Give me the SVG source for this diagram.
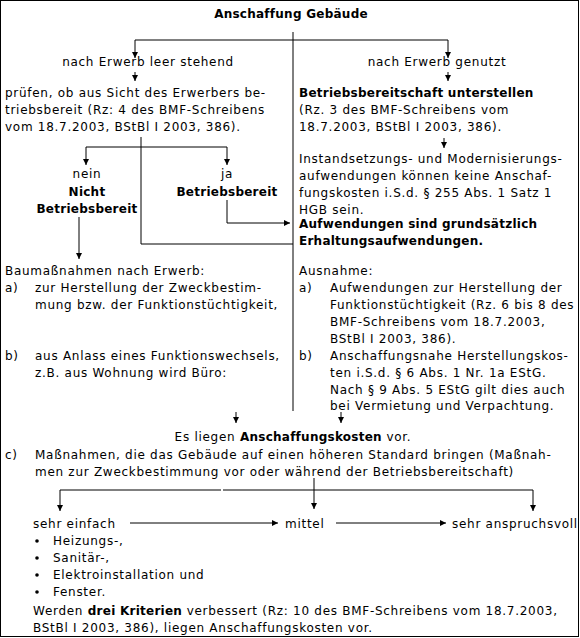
<svg xmlns="http://www.w3.org/2000/svg" width="580" height="638" viewBox="0 0 580 638">
<style>
text{font-family:"DejaVu Sans","Liberation Sans",sans-serif;font-size:12px;fill:#000;letter-spacing:0.72px}
.b{font-weight:bold;letter-spacing:0.25px}
.c{text-anchor:middle}
.ln{fill:none;stroke:#000;stroke-width:1}
.ar{fill:none;stroke:#000;stroke-width:1;marker-end:url(#ah)}
</style>
<defs>
<marker id="ah" markerUnits="userSpaceOnUse" markerWidth="8" markerHeight="8" refX="6" refY="3" orient="auto">
<path d="M0,0 L6,3 L0,6 Z" fill="#000"/>
</marker>
</defs>
<rect x="0.5" y="0.5" width="578" height="636" fill="#fff" stroke="#000"/>
<g id="connectors">
<path class="ln" d="M293,32 V411"/>
<path class="ln" d="M135,40 H448"/>
<path class="ar" d="M135,40 V58"/>
<path class="ar" d="M448,40 V58"/>
<path class="ar" d="M135,72 V81"/>
<path class="ar" d="M448,72 V81"/>
<path class="ar" d="M444,138 V148"/>
<path class="ln" d="M86,147 H227"/>
<path class="ar" d="M86,147 V165"/>
<path class="ar" d="M227,147 V165"/>
<path class="ln" d="M141,137 V244 H293"/>
<path class="ar" d="M227,200 V223 H290"/>
<path class="ar" d="M79,217 V259"/>
<path class="ar" d="M236,412 V423"/>
<path class="ar" d="M341,412 V423"/>
<path class="ar" d="M314,478 V509"/>
<path class="ln" d="M60,490 H221 M223,490 H533"/>
<path class="ar" d="M60,490 V511"/>
<path class="ar" d="M533,490 V511"/>
<path class="ar" d="M130,523 H278"/>
<path class="ar" d="M336,523 H446"/>
</g>
<g id="title"><text class="b c" x="291" y="18">Anschaffung Gebäude</text></g>
<g id="leer"><text class="c" x="148" y="66">nach Erwerb leer stehend</text></g>
<g id="genutzt"><text class="c" x="437" y="66">nach Erwerb genutzt</text></g>
<g id="pruefen">
<text x="5" y="97">prüfen, ob aus Sicht des Erwerbers be-</text>
<text x="5" y="114">triebsbereit (Rz: 4 des BMF-Schreibens</text>
<text x="5" y="131">vom 18.7.2003, BStBl I 2003, 386).</text>
</g>
<g id="unterstellen">
<text class="b" x="299" y="97">Betriebsbereitschaft unterstellen</text>
<text x="299" y="114">(Rz. 3 des BMF-Schreibens vom</text>
<text x="299" y="131">18.7.2003, BStBl I 2003, 386).</text>
</g>
<g id="nein">
<text class="c" x="87" y="178">nein</text>
<text class="b c" x="87" y="196">Nicht</text>
<text class="b c" x="87" y="213">Betriebsbereit</text>
</g>
<g id="ja">
<text class="c" x="227" y="178">ja</text>
<text class="b c" x="227" y="196">Betriebsbereit</text>
</g>
<g id="instandsetzung">
<text x="299" y="163">Instandsetzungs- und Modernisierungs-</text>
<text x="299" y="180">aufwendungen können keine Anschaf-</text>
<text x="299" y="197">fungskosten i.S.d. § 255 Abs. 1 Satz 1</text>
<text x="299" y="214">HGB sein.</text>
<text class="b" x="299" y="228">Aufwendungen sind grundsätzlich</text>
<text class="b" x="299" y="245">Erhaltungsaufwendungen.</text>
</g>
<g id="baumassnahmen">
<text x="5" y="275">Baumaßnahmen nach Erwerb:</text>
<text x="5" y="292">a)</text>
<text x="35" y="292">zur Herstellung der Zweckbestim-</text>
<text x="35" y="309">mung bzw. der Funktionstüchtigkeit,</text>
<text x="5" y="360">b)</text>
<text x="35" y="360">aus Anlass eines Funktionswechsels,</text>
<text x="35" y="377">z.B. aus Wohnung wird Büro:</text>
</g>
<g id="ausnahme">
<text x="299" y="275">Ausnahme:</text>
<text x="299" y="292">a)</text>
<text x="330" y="292">Aufwendungen zur Herstellung der</text>
<text x="330" y="309">Funktionstüchtigkeit (Rz. 6 bis 8 des</text>
<text x="330" y="326">BMF-Schreibens vom 18.7.2003,</text>
<text x="330" y="343">BStBl I 2003, 386).</text>
<text x="299" y="360">b)</text>
<text x="330" y="360">Anschaffungsnahe Herstellungskos-</text>
<text x="330" y="377">ten i.S.d. § 6 Abs. 1 Nr. 1a EStG.</text>
<text x="330" y="394">Nach § 9 Abs. 5 EStG gilt dies auch</text>
<text x="330" y="410">bei Vermietung und Verpachtung.</text>
</g>
<g id="anschaffungskosten">
<text class="c" x="293" y="441">Es liegen <tspan class="b">Anschaffungskosten</tspan> vor.</text>
<text x="5" y="459">c)</text>
<text x="35" y="459">Maßnahmen, die das Gebäude auf einen höheren Standard bringen (Maßnah-</text>
<text x="35" y="476">men zur Zweckbestimmung vor oder während der Betriebsbereitschaft)</text>
</g>
<g id="einfach">
<text x="33" y="528">sehr einfach</text>
<circle cx="37" cy="541" r="1.8"/>
<text x="53" y="545">Heizungs-,</text>
<circle cx="37" cy="558" r="1.8"/>
<text x="53" y="562">Sanitär-,</text>
<circle cx="37" cy="575" r="1.8"/>
<text x="53" y="579">Elektroinstallation und</text>
<circle cx="37" cy="592" r="1.8"/>
<text x="53" y="596">Fenster.</text>
</g>
<g id="mittel"><text x="285" y="528">mittel</text></g>
<g id="anspruchsvoll"><text x="452" y="528">sehr anspruchsvoll</text></g>
<g id="kriterien">
<text x="33" y="615">Werden <tspan class="b">drei Kriterien</tspan> verbessert (Rz: 10 des BMF-Schreibens vom 18.7.2003,</text>
<text x="33" y="632">BStBl I 2003, 386), liegen Anschaffungskosten vor.</text>
</g>
</svg>
